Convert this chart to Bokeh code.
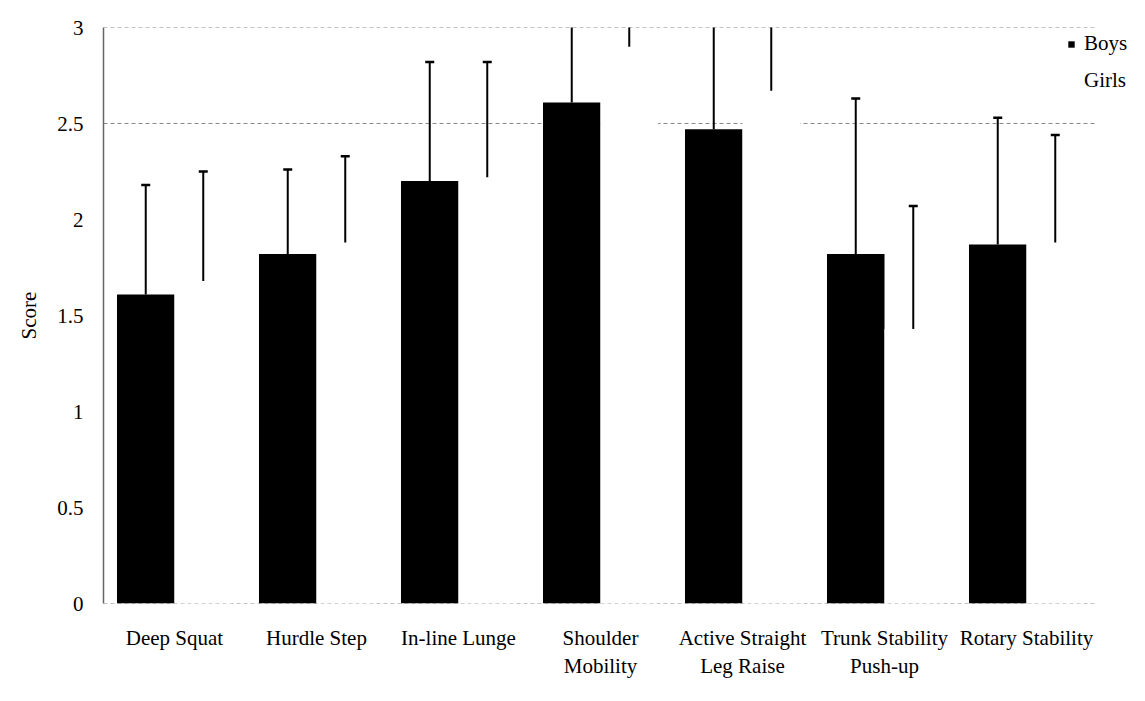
from bokeh.plotting import figure
from bokeh.models import ColumnDataSource, FixedTicker, Legend, LegendItem, Range1d
from bokeh.embed import file_html
from bokeh.resources import INLINE

# ---- data ----
categories = ["Deep Squat", "Hurdle Step", "In-line Lunge", "Shoulder\nMobility",
              "Active Straight\nLeg Raise", "Trunk Stability\nPush-up", "Rotary Stability"]
boys_mean = [1.61, 1.82, 2.20, 2.61, 2.47, 1.82, 1.87]
boys_sd = [0.57, 0.44, 0.62, 0.50, 0.60, 0.81, 0.66]
girls_mean = [1.68, 1.88, 2.22, 2.90, 2.67, 1.43, 1.88]
girls_sd = [0.57, 0.45, 0.60, 0.30, 0.45, 0.64, 0.56]
y_ticks = [0, 0.5, 1, 1.5, 2, 2.5, 3]
y_tick_labels = ["0", "0.5", "1", "1.5", "2", "2.5", "3"]
grid_levels = [0, 2.5, 3]

FONT = "Liberation Serif"
FS = "21px"
TXT = "#000000"

n = len(categories)
idx = list(range(n))
off = 0.2025
bw = 0.405

src = ColumnDataSource(dict(
    xb=[i - off for i in idx],
    xg=[i + off for i in idx],
    boys=boys_mean,
    boys_top=[m + s for m, s in zip(boys_mean, boys_sd)],
    girls=girls_mean,
    girls_top=[m + s for m, s in zip(girls_mean, girls_sd)],
))

p = figure(x_range=Range1d(-0.5, n - 0.5 + 0.338), y_range=Range1d(0, 3),
           width=1145, height=701, output_backend="svg", toolbar_location=None,
           min_border_left=103, min_border_right=0, min_border_top=27, min_border_bottom=98)
p.outline_line_color = None
p.background_fill_color = "white"
p.xgrid.grid_line_color = None
p.ygrid.grid_line_color = None

# dashed grid lines spanning the category area only
grid_src = ColumnDataSource(dict(y=grid_levels, x0=[-0.5] * len(grid_levels),
                                 x1=[n - 0.5] * len(grid_levels)))
p.segment(x0="x0", x1="x1", y0="y", y1="y", source=grid_src,
          line_color="#8a8a8a", line_dash="4 3", line_width=1)

boys_r = p.vbar(x="xb", top="boys", width=bw, bottom=0, source=src,
                fill_color="#000000", line_color=None)
girls_r = p.vbar(x="xg", top="girls", width=bw, bottom=0, source=src,
                 fill_color="white", line_color=None)

# error bars (upper only), clipped by the frame
for key, top, xk in (("boys", "boys_top", "xb"), ("girls", "girls_top", "xg")):
    p.segment(x0=xk, x1=xk, y0=key, y1=top, source=src, line_color="black", line_width=2)
    p.scatter(x=xk, y=top, marker="dash", size=9, line_width=2.5,
              line_color="black", source=src)

# y axis
p.yaxis.ticker = FixedTicker(ticks=y_ticks)
p.yaxis.major_label_overrides = {t: l for t, l in zip(y_ticks, y_tick_labels)}
p.yaxis.axis_label = "Score"
p.yaxis.axis_label_text_font = FONT
p.yaxis.axis_label_text_font_style = "normal"
p.yaxis.axis_label_text_font_size = FS
p.yaxis.axis_label_text_color = TXT
p.yaxis.axis_label_standoff = 13
p.yaxis.major_label_text_font = FONT
p.yaxis.major_label_text_font_size = FS
p.yaxis.major_label_text_color = TXT
p.yaxis.major_label_standoff = 14
p.yaxis.major_tick_line_color = None
p.yaxis.minor_tick_line_color = None
p.yaxis.axis_line_color = "#666666"
p.yaxis.axis_line_width = 1.5

# x axis with category names
p.xaxis.ticker = FixedTicker(ticks=idx)
p.xaxis.major_label_overrides = {i: c for i, c in zip(idx, categories)}
p.xaxis.major_label_text_font = FONT
p.xaxis.major_label_text_font_size = FS
p.xaxis.major_label_text_color = TXT
p.xaxis.major_label_standoff = 16
p.xaxis.major_tick_line_color = None
p.xaxis.minor_tick_line_color = None
p.xaxis.axis_line_color = None

legend = Legend(items=[LegendItem(label="Boys", renderers=[boys_r]),
                       LegendItem(label="Girls", renderers=[girls_r])],
                location=(964, 510), padding=2, margin=0, spacing=12,
                glyph_width=8, glyph_height=8, label_height=24, label_standoff=9,
                label_text_font=FONT, label_text_font_size=FS, label_text_color=TXT,
                border_line_color=None, background_fill_color="white",
                background_fill_alpha=1)
p.add_layout(legend, "center")

open("out.html", "w").write(file_html(p, INLINE))
